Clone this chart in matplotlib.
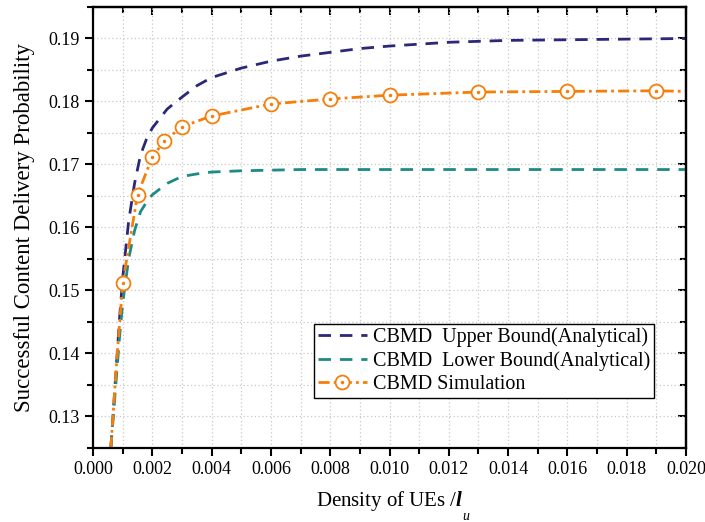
import matplotlib
matplotlib.use("Agg")
import matplotlib.pyplot as plt
from matplotlib.ticker import MultipleLocator
from matplotlib.legend_handler import HandlerTuple

plt.rcParams['font.family'] = ['Liberation Serif', 'DejaVu Serif']
plt.rcParams['mathtext.fontset'] = 'custom'
plt.rcParams['mathtext.rm'] = 'Liberation Serif'
plt.rcParams['mathtext.it'] = 'Liberation Serif:italic:bold'
plt.rcParams['mathtext.bf'] = 'Liberation Serif:bold'

x_ana = [0.0006, 0.0007, 0.0008, 0.0009, 0.001, 0.0012, 0.0014, 0.0016, 0.0018, 0.002,
         0.0025, 0.003, 0.0035, 0.004, 0.005, 0.006, 0.007, 0.008, 0.009, 0.010,
         0.012, 0.014, 0.016, 0.018, 0.020]
upper = [0.125, 0.132, 0.139, 0.146, 0.152, 0.161, 0.167, 0.1715, 0.1740, 0.1758,
         0.1788, 0.1807, 0.1825, 0.1838, 0.1853, 0.1864, 0.1872, 0.1878, 0.1884, 0.1888,
         0.1894, 0.1897, 0.1898, 0.1899, 0.1900]
lower = [0.125, 0.131, 0.137, 0.143, 0.148, 0.155, 0.1595, 0.1625, 0.1640, 0.1652,
         0.1670, 0.1681, 0.1685, 0.1688, 0.1690, 0.1691, 0.1692, 0.1692, 0.1692, 0.1692,
         0.1692, 0.1692, 0.1692, 0.1692, 0.1692]
x_sim = [0.0006, 0.0007, 0.0008, 0.0009, 0.001, 0.0015, 0.002, 0.0024, 0.003, 0.004,
         0.006, 0.008, 0.010, 0.013, 0.016, 0.019, 0.020]
sim = [0.125, 0.132, 0.139, 0.145, 0.1512, 0.1652, 0.1712, 0.1737, 0.1760, 0.1777,
       0.1796, 0.1804, 0.1810, 0.1815, 0.1816, 0.1817, 0.1816]

c_up = '#2b2878'
c_lo = '#1d8a86'
c_sim = '#f57f0a'

fig = plt.figure(figsize=(7.05, 5.22), dpi=100)
ax = fig.add_axes([0.132, 0.1418, 0.841, 0.8448])

h1, = ax.plot(x_ana, upper, color=c_up, lw=2, dashes=(4.5, 3.2))
h2, = ax.plot(x_ana, lower, color=c_lo, lw=2, dashes=(4.5, 3.2))
mk = list(range(4, 16))
h3, = ax.plot(x_sim, sim, color=c_sim, lw=2, dashes=(4, 1.5, 1, 1.5), marker='o', ms=10,
              mfc='white', mec=c_sim, mew=1.3, markevery=mk)
h3d, = ax.plot([x_sim[i] for i in mk], [sim[i] for i in mk], ls='none', marker='o', ms=1.5,
               color=c_sim)

ax.set_xlim(0, 0.020)
ax.set_ylim(0.125, 0.195)
ax.xaxis.set_major_locator(MultipleLocator(0.002))
ax.xaxis.set_minor_locator(MultipleLocator(0.001))
ax.yaxis.set_major_locator(MultipleLocator(0.01))
ax.yaxis.set_minor_locator(MultipleLocator(0.005))
ax.xaxis.set_major_formatter(plt.FuncFormatter(lambda v, p: f'{v:.3f}'))
ax.yaxis.set_major_formatter(plt.FuncFormatter(lambda v, p: f'{v:.2f}'))

ax.grid(True, which='both', color='#c8c8c8', ls=(0, (1, 2)), lw=0.9)
ax.tick_params(which='both', direction='out', top=False, right=False, labelsize=13, width=1.5)
ax.tick_params(which='major', length=6)
ax.tick_params(which='minor', length=4)
for s in ax.spines.values():
    s.set_linewidth(1.6)

axt = ax.secondary_xaxis('top')
axt.xaxis.set_major_locator(MultipleLocator(0.002))
axt.xaxis.set_minor_locator(MultipleLocator(0.001))
axt.tick_params(which='both', direction='in', labeltop=False, width=1.5)
axt.tick_params(which='major', length=6)
axt.tick_params(which='minor', length=4)
axr = ax.secondary_yaxis('right')
axr.yaxis.set_major_locator(MultipleLocator(0.01))
axr.yaxis.set_minor_locator(MultipleLocator(0.005))
axr.tick_params(which='both', direction='in', labelright=False, width=1.5)
axr.tick_params(which='major', length=6)
axr.tick_params(which='minor', length=4)
for a in (axt, axr):
    for s in a.spines.values():
        s.set_linewidth(1.6)

ax.set_ylabel('Successful Content Delivery Probability', fontsize=16.5, labelpad=10)
ax.set_xlabel(r'Density of UEs $\mathit{/l}$', fontsize=15, labelpad=8)
fig.text(0.656, 0.004, 'u', fontsize=10, style='italic')

leg = ax.legend([h1, h2, (h3, h3d)],
                ['CBMD  Upper Bound(Analytical)', 'CBMD  Lower Bound(Analytical)', 'CBMD Simulation'],
                handler_map={tuple: HandlerTuple(ndivide=1)},
                loc='upper right', bbox_to_anchor=(0.946, 0.282), fontsize=14.5,
                frameon=True, fancybox=False, edgecolor='black', framealpha=1,
                borderpad=0.2, labelspacing=0.2, handlelength=2.4, handletextpad=0.3,
                borderaxespad=0)
leg.get_frame().set_linewidth(1.0)

fig.savefig('out.png', dpi=100)
